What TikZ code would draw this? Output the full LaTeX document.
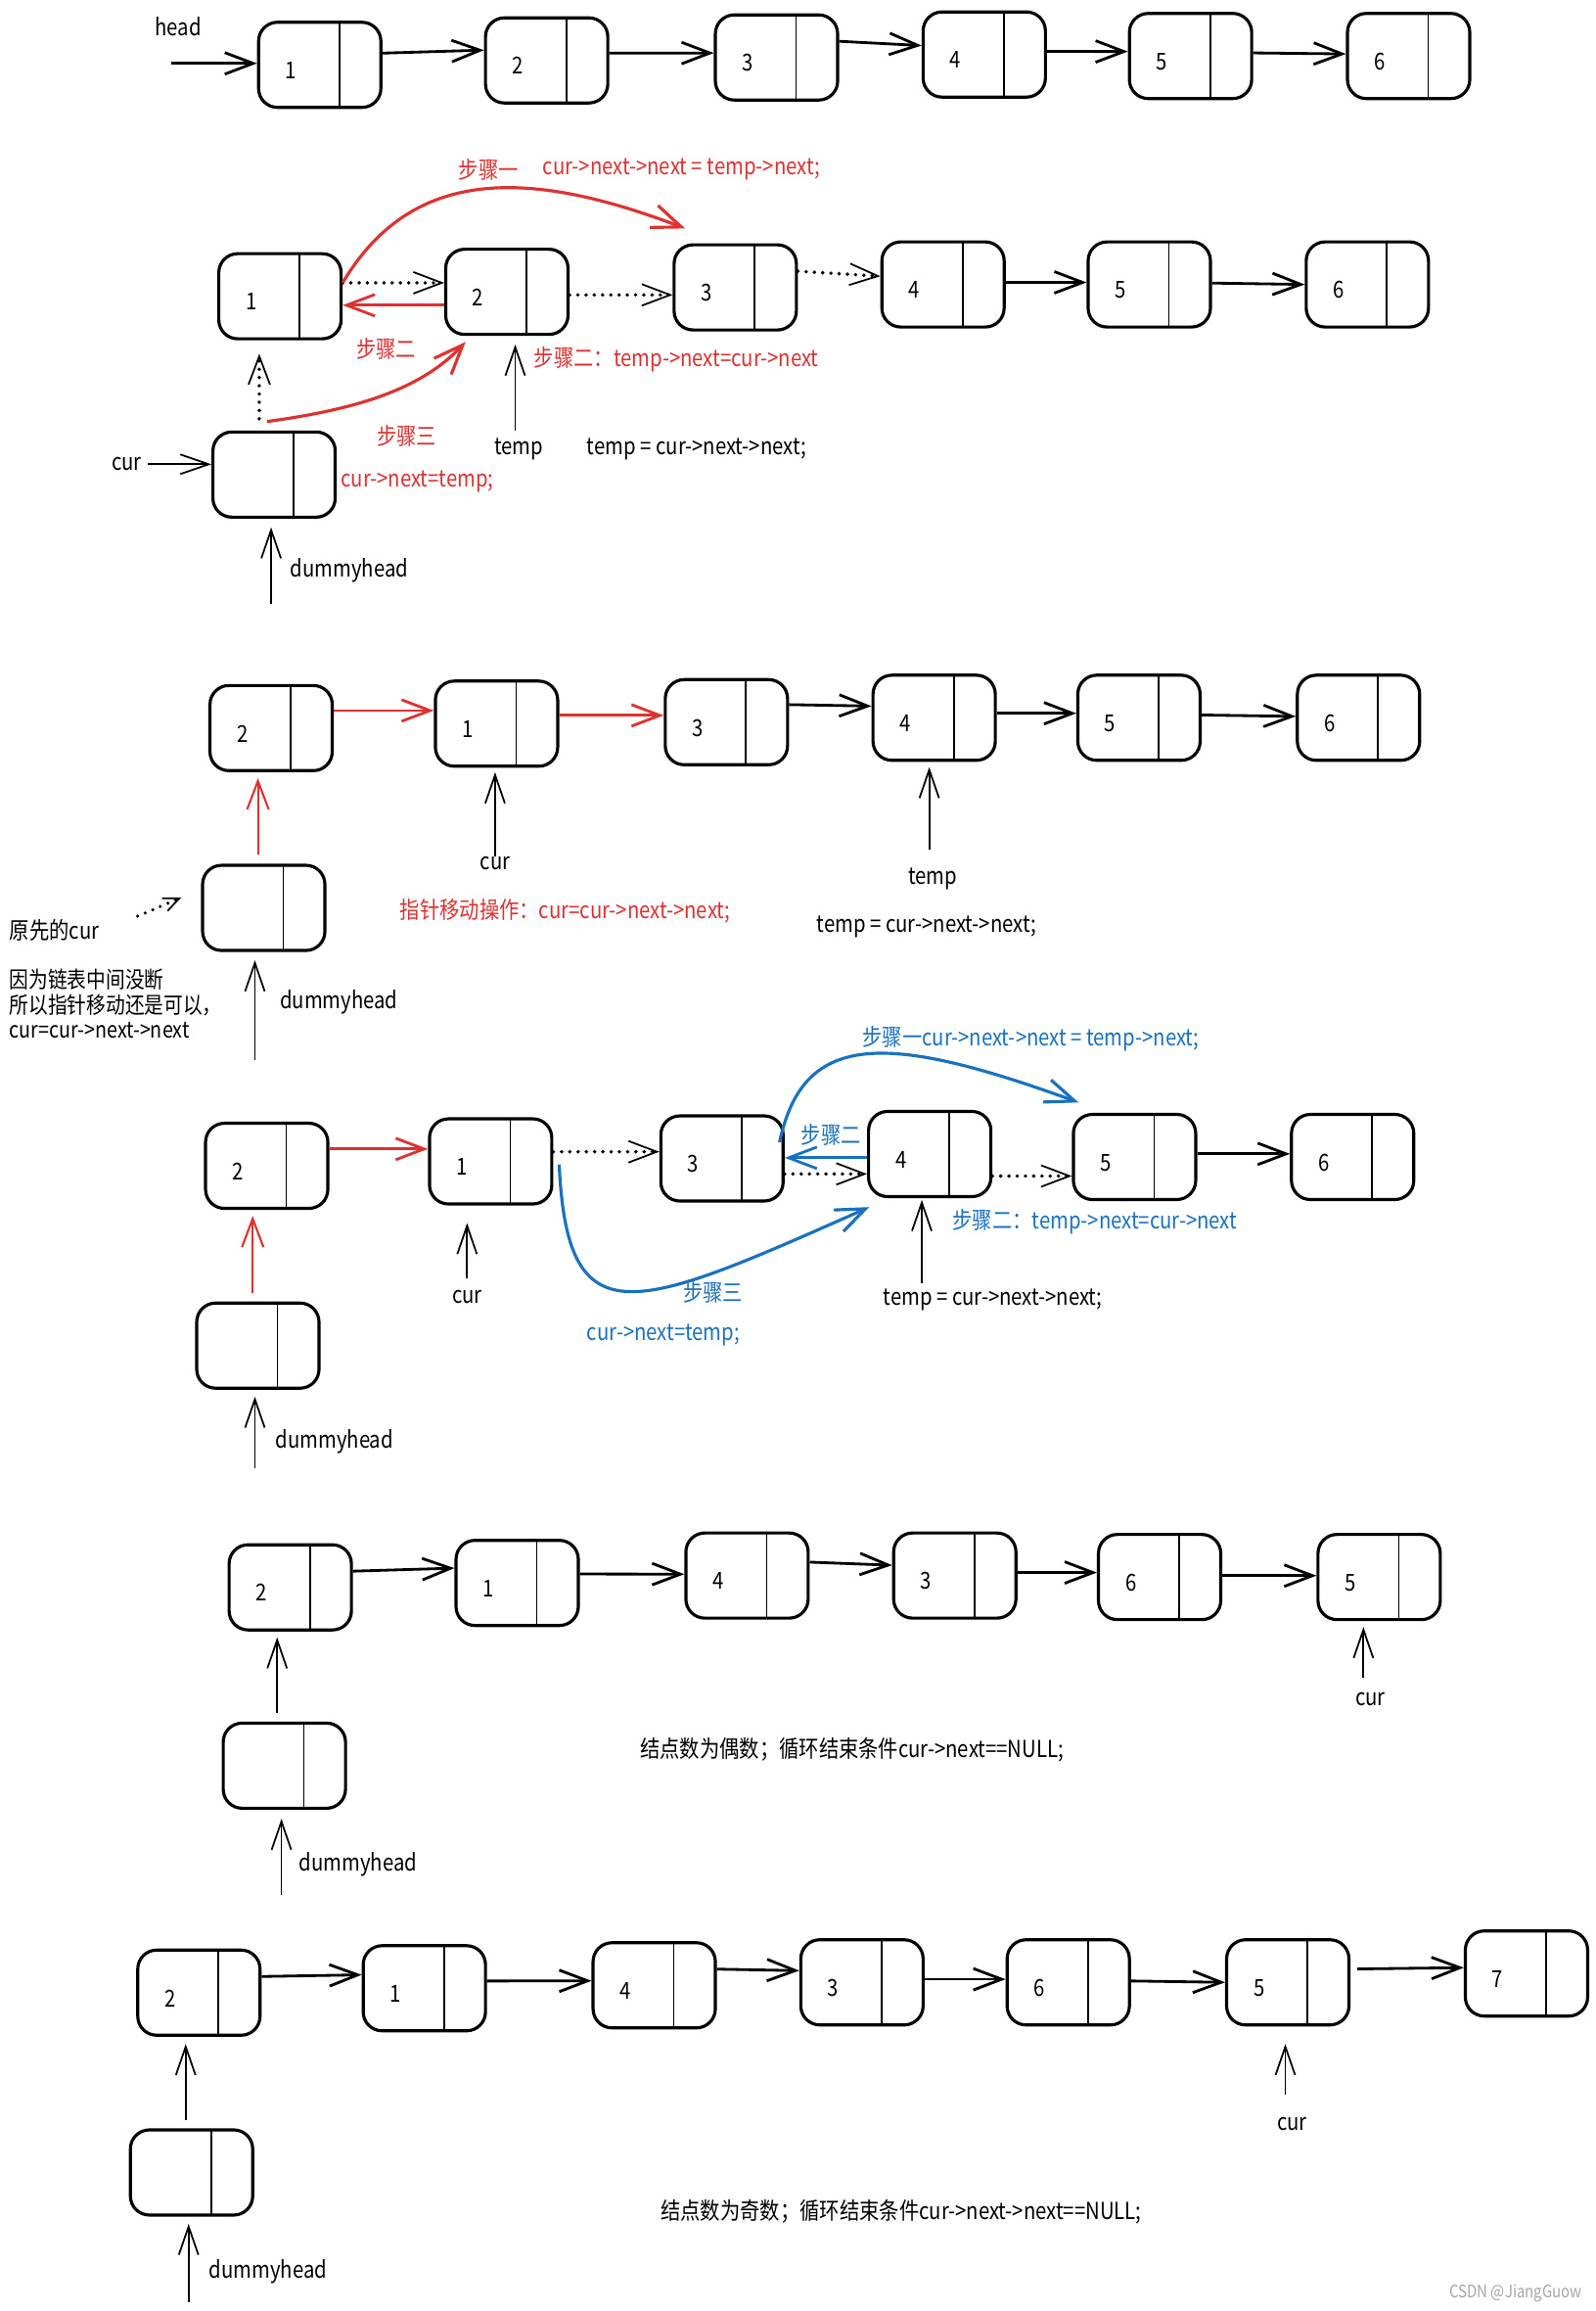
\documentclass[tikz,border=0pt]{standalone}
\usepackage{fontspec}
\setmainfont[FakeStretch=0.85]{Noto Sans CJK SC}
\usepackage{tikz}
\usetikzlibrary{
    arrows.meta,
    calc
}
\definecolor{exRed}{RGB}{224,49,49}
\definecolor{exBlue}{RGB}{25,113,194}
\tikzset{
  lnode/.style = {draw, line width=0.9pt, rounded corners=5.5pt,
                  minimum width=1.25cm, minimum height=0.87cm,
                  text width=0.7cm, text height=8.1pt, text depth=0pt,
                  inner xsep=0.275cm, inner ysep=0pt, align=left,
                  path picture={\draw[line width=0.5pt]
                    ($(path picture bounding box.north west)!0.66!(path picture bounding box.north east)$) --
                    ($(path picture bounding box.south west)!0.66!(path picture bounding box.south east)$);}},
  arr/.style   = {-{Straight Barb[length=2.9mm,width=2.2mm]}, line width=0.8pt},
  parr/.style  = {-{Straight Barb[length=2.9mm,width=2mm]}, line width=0.5pt},
  darr/.style  = {-{Straight Barb[length=2.9mm,width=2.2mm,line width=0.5pt]},
                  line width=1.1pt, dash pattern=on 0pt off 2.4pt, line cap=round},
  carr/.style  = {-{Straight Barb[length=3mm,width=2.4mm]}, line width=0.9pt}
}

\begin{document}
\begin{tikzpicture}[x=0.01506cm, y=-0.01506cm,
    every node/.style={font=\fontsize{6.8}{7.8}\selectfont, inner sep=0pt}]
  \useasboundingbox (0,0) rectangle (1083,1568);

  % Row 1: the original list
  \node[lnode] (a1) at (217,44) {1};
  \node[lnode] (a2) at (371,41) {2};
  \node[lnode] (a3) at (527,39) {3};
  \node[lnode] (a4) at (668,37) {4};
  \node[lnode] (a5) at (808,38) {5};
  \node[lnode] (a6) at (956,38) {6};
  \node (ahead) at (121,18) {head};
  \coordinate (ain) at (116,43);
  \draw[arr] (ain) -- (ain -| a1.west);
  \draw[arr] ([yshift=3.4pt]a1.east) -- ([yshift=3pt]a2.west);
  \draw[arr] ([yshift=2.1pt]a2.east) -- ([yshift=1.3pt]a3.west);
  \draw[arr] ([yshift=4.7pt]a3.east) -- ([yshift=2.6pt]a4.west);
  \draw[arr] ([yshift=0.9pt]a4.east) -- ([yshift=1.3pt]a5.west);
  \draw[arr] ([yshift=0.9pt]a5.east) -- ([yshift=0.6pt]a6.west);

  % Row 2: swapping 1 and 2
  \node[lnode] (b1) at (190,201) {1};
  \node[lnode] (b2) at (344,198) {2};
  \node[lnode] (b3) at (499,195) {3};
  \node[lnode] (b4) at (640,193) {4};
  \node[lnode] (b5) at (780,193) {5};
  \node[lnode] (b6) at (928,193) {6};
  \node[lnode] (bd) at (186,322) {};
  \draw[darr] ([yshift=3.9pt]b1.east) -- ([yshift=3.9pt]b1.east -| b2.west);
  \draw[arr, exRed] ([yshift=-3.9pt]b2.west) -- ([yshift=-3.9pt]b2.west -| b1.east);
  \draw[darr] ([yshift=-0.9pt]b2.east) -- ([yshift=-0.9pt]b2.east -| b3.west);
  \draw[darr] ([yshift=4.7pt]b3.east) -- ([yshift=2.4pt]b4.west);
  \draw[arr] ([yshift=0.6pt]b4.east) -- ([yshift=0.6pt]b4.east -| b5.west);
  \draw[arr] ([yshift=0.4pt]b5.east) -- (b6.west);
  \draw[darr] ([xshift=-4.3pt,yshift=3.4pt]bd.north) -- ([xshift=-4.3pt,yshift=-3.9pt]bd.north |- b1.south);

  % Row 2: steps
  \coordinate (bs1) at (465,155);
  \draw[carr, exRed] ([yshift=3.9pt]b1.east) .. controls (280,112) and (360,115) .. (bs1);
  \coordinate (bs3) at (316,232);
  \draw[carr, exRed] ([xshift=-2pt,yshift=2.6pt]bd.north) .. controls (240,278) and (285,265) .. (bs3);

  % Row 2: pointers
  \node (bcur) at (86,315) {cur};
  \draw[parr] ([xshift=1.5pt]bcur.east) -- (bcur.east -| bd.west);
  \coordinate (bdh) at (184,410);
  \draw[parr, shorten >=2.5pt] (bdh) -- (bdh |- bd.south);
  \node (bdhl) at (237,387) {dummyhead};
  \node (btmp) at (352,305) {temp};
  \draw[parr, shorten <=2pt, shorten >=2.5pt] ([xshift=-1pt]btmp.north) -- ([xshift=-1pt]btmp.north |- b2.south);

  % Row 2: labels
  \node[exRed, anchor=west] (bl1) at (311,115) {步骤一};
  \node[exRed, anchor=west] (bl1c) at (368,115) {cur->next->next = temp->next;};
  \node[exRed] (bl2) at (262,237) {步骤二};
  \node[exRed, anchor=west] (bl2c) at (362,244) {步骤二：temp->next=cur->next};
  \node[exRed] (bl3) at (276,296) {步骤三};
  \node[exRed, anchor=west] (bl3c) at (231,327) {cur->next=temp;};
  \node[anchor=west] (btmpc) at (398,305) {temp = cur->next->next;};

  % Row 3: moving cur
  \node[lnode] (c2) at (184,494) {2};
  \node[lnode] (c1) at (337,491) {1};
  \node[lnode] (c3) at (493,490) {3};
  \node[lnode] (c4) at (634,487) {4};
  \node[lnode] (c5) at (773,487) {5};
  \node[lnode] (c6) at (922,487) {6};
  \node[lnode] (cd) at (179,616) {};
  \draw[arr, exRed, line width=0.6pt] ([xshift=-1.7pt,yshift=2.8pt]cd.north) -- ([xshift=-1.7pt,yshift=-1.7pt]cd.north |- c2.south);
  \draw[arr, exRed] ([yshift=5.1pt]c2.east) -- ([yshift=5.1pt]c2.east -| c1.west);
  \draw[arr, exRed] ([yshift=2.4pt]c1.east) -- ([yshift=2.4pt]c1.east -| c3.west);
  \draw[arr] ([yshift=5.1pt]c3.east) -- ([yshift=3.4pt]c4.west);
  \draw[arr] ([yshift=1.3pt]c4.east) -- ([yshift=1.3pt]c4.east -| c5.west);
  \draw[arr] ([yshift=0.8pt]c5.east) -- ([yshift=0.4pt]c6.west);

  % Row 3: pointers and labels
  \node (ccur) at (336,586) {cur};
  \draw[parr, shorten >=1.3pt] (ccur.north) -- (ccur.north |- c1.south);
  \node (ctmp) at (633,596) {temp};
  \draw[parr, shorten <=5pt, shorten >=1.5pt] ([xshift=-1pt]ctmp.north) -- ([xshift=-1pt]ctmp.north |- c4.south);
  \node[anchor=west] (ctmpc) at (554,629) {temp = cur->next->next;};
  \node[exRed, anchor=west] (cmove) at (271,618) {指针移动操作：cur=cur->next->next;};
  \node[anchor=west] (corig) at (6,631) {原先的cur};
  \coordinate (cptr) at (123,609);
  \draw[darr, line width=1pt, -{Straight Barb[length=1.6mm,width=1.4mm,line width=0.5pt]}]
    ([xshift=11pt,yshift=4pt]corig.east) -- (cptr);
  \coordinate (cdh) at (173,719);
  \draw[parr, shorten >=2.4pt] (cdh) -- (cdh |- cd.south);
  \node (cdhl) at (230,680) {dummyhead};
  \node[anchor=west, align=left, font=\fontsize{6.6}{7.3}\selectfont] (cwhy) at (6,681)
    {因为链表中间没断\\所以指针移动还是可以，\\cur=cur->next->next};

  % Row 4: swapping 3 and 4
  \node[lnode] (d2) at (181,791) {2};
  \node[lnode] (d1) at (333,788) {1};
  \node[lnode] (d3) at (490,786) {3};
  \node[lnode] (d4) at (631,783) {4};
  \node[lnode] (d5) at (770,785) {5};
  \node[lnode] (d6) at (918,785) {6};
  \node[lnode] (dd) at (175,913) {};
  \draw[arr, exRed, line width=0.6pt] ([xshift=-1.5pt,yshift=2.4pt]dd.north) -- ([xshift=-1.5pt,yshift=-1.7pt]dd.north |- d2.south);
  \draw[arr, exRed] ([yshift=4.9pt]d2.east) -- ([yshift=4.9pt]d2.east -| d1.west);
  \draw[darr] ([yshift=2.8pt]d1.east) -- ([yshift=2.8pt]d1.east -| d3.west);
  \draw[arr, exBlue] ([yshift=-1.1pt]d4.west) -- ([yshift=-1.1pt]d4.west -| d3.east);
  \draw[darr] ([yshift=-4.5pt]d3.east) -- ([yshift=-4.5pt]d3.east -| d4.west);
  \draw[darr] ([yshift=-6.4pt]d4.east) -- ([yshift=-6.4pt]d4.east -| d5.west);
  \draw[arr] ([yshift=0.9pt]d5.east) -- ([yshift=0.9pt]d5.east -| d6.west);

  % Row 4: steps
  \coordinate (ds1) at (732,748);
  \draw[carr, exBlue] ([xshift=-1.5pt,yshift=4.7pt]d3.east) .. controls (545,700) and (600,700) .. (ds1);
  \coordinate (ds3) at (590,819);
  \draw[carr, exBlue] ([xshift=1.7pt,yshift=-0.9pt]d1.east) .. controls (385,910) and (430,890) .. (ds3);

  % Row 4: pointers and labels
  \node (dcur) at (317,880) {cur};
  \draw[parr, shorten <=3.4pt, shorten >=5.1pt] (dcur.north) -- (dcur.north |- d1.south);
  \node[anchor=west] (dtmpc) at (599,882) {temp = cur->next->next;};
  \draw[parr, shorten <=1.5pt, shorten >=0.5pt] ([xshift=11.4pt]dtmpc.north west) -- ([xshift=11.4pt]dtmpc.north west |- d4.south);
  \node[exBlue, anchor=west] (dl1) at (585,705) {步骤一cur->next->next = temp->next;};
  \node[exBlue] (dl2) at (564,770) {步骤二};
  \node[exBlue, anchor=west] (dl2c) at (646,829) {步骤二：temp->next=cur->next};
  \node[exBlue] (dl3) at (484,877) {步骤三};
  \node[exBlue, anchor=west] (dl3c) at (398,906) {cur->next=temp;};
  \coordinate (ddh) at (173,996);
  \draw[parr, shorten >=2pt] (ddh) -- (ddh |- dd.south);
  \node (ddhl) at (227,978) {dummyhead};

  % Row 5: even number of nodes
  \node[lnode] (e2) at (197,1077) {2};
  \node[lnode] (e1) at (351,1074) {1};
  \node[lnode] (e4) at (507,1069) {4};
  \node[lnode] (e3) at (648,1069) {3};
  \node[lnode] (e6) at (787,1070) {6};
  \node[lnode] (e5) at (936,1070) {5};
  \node[lnode] (ed) at (193,1198) {};
  \draw[parr, shorten >=1.7pt] ([xshift=-2.1pt,yshift=2.6pt]ed.north) -- ([xshift=-2.1pt]ed.north |- e2.south);
  \draw[arr] ([yshift=4.7pt]e2.east) -- ([yshift=4.3pt]e1.west);
  \draw[arr] ([yshift=2.6pt]e1.east) -- ([yshift=0.4pt]e4.west);
  \draw[arr] ([yshift=3.9pt]e4.east) -- ([yshift=3pt]e3.west);
  \draw[arr] ([yshift=0.9pt]e3.east) -- ([yshift=1.3pt]e6.west);
  \draw[arr] ([yshift=0.4pt]e6.east) -- ([yshift=0.4pt]e5.west);
  \node (ecur) at (930,1153) {cur};
  \draw[parr, shorten <=4.3pt, shorten >=1.7pt] ([xshift=-2pt]ecur.north) -- ([xshift=-2pt]ecur.north |- e5.south);
  \coordinate (edh) at (191,1286);
  \draw[parr, shorten >=2.6pt] (edh) -- (edh |- ed.south);
  \node (edhl) at (243,1265) {dummyhead};
  \node[anchor=west] (eend) at (434,1187) {结点数为偶数；循环结束条件cur->next==NULL;};

  % Row 6: odd number of nodes
  \node[lnode] (f2) at (135,1352) {2};
  \node[lnode] (f1) at (288,1349) {1};
  \node[lnode] (f4) at (444,1347) {4};
  \node[lnode] (f3) at (585,1345) {3};
  \node[lnode] (f6) at (725,1345) {6};
  \node[lnode] (f5) at (874,1345) {5};
  \node[lnode] (f7) at (1036,1339) {7};
  \node[lnode] (fd) at (130,1474) {};
  \draw[parr, shorten >=2.1pt] ([xshift=-1.7pt,yshift=2.4pt]fd.north) -- ([xshift=-1.7pt]fd.north |- f2.south);
  \draw[arr] ([yshift=4.7pt]f2.east) -- ([yshift=3.9pt]f1.west);
  \draw[arr] ([yshift=2.1pt]f1.east) -- ([yshift=1.3pt]f4.west);
  \draw[arr] ([yshift=4.7pt]f4.east) -- ([yshift=3.4pt]f3.west);
  \draw[arr] ([yshift=0.9pt]f3.east) -- ([yshift=0.9pt]f6.west);
  \draw[arr] ([yshift=0.4pt]f6.east) -- (f5.west);
  \draw[arr] ([xshift=2pt,yshift=3.9pt]f5.east) -- ([yshift=1.7pt]f7.west);
  \node (fcur) at (877,1441) {cur};
  \draw[parr, shorten <=6.4pt, shorten >=5.1pt] ([xshift=-2pt]fcur.north) -- ([xshift=-2pt]fcur.north |- f5.south);
  \coordinate (fdh) at (128,1562);
  \draw[parr, shorten >=2.1pt] (fdh) -- (fdh |- fd.south);
  \node (fdhl) at (182,1541) {dummyhead};
  \node[anchor=west] (fend) at (448,1501) {结点数为奇数；循环结束条件cur->next->next==NULL;};
  \node[anchor=east, text=gray!70, font=\fontsize{5}{6}\selectfont] (mark) at (1074,1556) {CSDN @JiangGuow};
\end{tikzpicture}
\end{document}
